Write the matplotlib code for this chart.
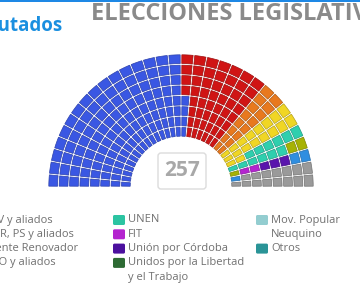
import matplotlib.pyplot as plt
import matplotlib.colors as mcolors
from matplotlib.patches import Wedge, FancyBboxPatch, Rectangle
import numpy as np

# bancas por bloque, en el orden en que se llenan (columna a columna, de adentro hacia afuera)
seat_counts = [132, 52, 16, 18, 12, 3, 2, 3, 3, 15]
seat_colors = ['#3a57e3', '#d01414', '#e8791e', '#f0d624', '#2fcfae',
               '#a6b204', '#b424cf', '#5a14ad', '#2f8ee0', '#9a9a9a']
total_seats = 257

legend_labels = [['FPV y aliados', 'UCR, PS y aliados', 'Frente Renovador', 'PRO y aliados'],
                 ['UNEN', 'FIT', 'Unión por Córdoba', 'Unidos por la Libertad\ny el Trabajo'],
                 ['Mov. Popular\nNeuquino', 'Otros']]
legend_colors = [['#3a57e3', '#d01414', '#e8791e', '#f0d624'],
                 ['#2cc4a2', '#b424cf', '#4b109e', '#2e6b34'],
                 ['#93cdd0', '#2a9497']]

plt.rcParams['font.family'] = ['Open Sans', 'DejaVu Sans']

W, H = 360, 285
fig = plt.figure(figsize=(W / 100, H / 100), dpi=100)
fig.patch.set_facecolor('white')

# capa en pixeles para textos y leyenda
ax = fig.add_axes([0, 0, 1, 1])
ax.set_xlim(0, W)
ax.set_ylim(H, 0)
ax.axis('off')

ax.add_patch(Rectangle((0, 0), W, 2.2, color='#1e88e5', lw=0))
ax.text(63, 31, 'Diputados', color='#1a8fe0', fontsize=13.5, fontweight='bold',
        ha='right', va='baseline')
ax.text(91, 19.5, 'ELECCIONES LEGISLATIVAS', color='#8a8a8a', fontsize=17,
        fontweight='bold', ha='left', va='baseline')

# hemiciclo
cx, cy = 181, 187
r_in, r_out = 50, 133
nrows, ncols = 8, 32
dr = (r_out - r_in) / nrows
dtheta = 180 / ncols
gap = 0.8

axh = fig.add_axes([(cx - 135) / W, (H - cy - 1) / H, 270 / W, 137 / H])
axh.set_xlim(-135, 135)
axh.set_ylim(-1, 136)
axh.axis('off')

colors = np.repeat(seat_colors, seat_counts)
for k, c in enumerate(colors):
    col, row = k // nrows, k % nrows
    r1 = r_in + row * dr
    r2 = r1 + dr
    rm = (r1 + r2) / 2
    gdeg = np.degrees(gap / rm)
    t2 = 180 - col * dtheta
    t1 = t2 - dtheta
    edge = np.array(mcolors.to_rgb(c)) * 0.75
    axh.add_patch(Wedge((0, 0), r2 - gap, t1 + gdeg, t2 - gdeg, width=dr - 2 * gap,
                        facecolor=c, edgecolor=edge, lw=0.5))

# recuadro con el total
ax.add_patch(FancyBboxPatch((158, 153), 48, 36, boxstyle='round,pad=0,rounding_size=3',
                            facecolor='white', edgecolor='#dcdcdc', lw=1))
ax.text(182, 171, str(total_seats), color='#a8a8a8', fontsize=15, fontweight='bold',
        ha='center', va='center')

# leyenda
col_x = [-30, 113, 256]
y0, step = 220, 14.3
for x, labels, cols in zip(col_x, legend_labels, legend_colors):
    slot = 0
    for lab, c in zip(labels, cols):
        y = y0 + slot * step
        ax.add_patch(FancyBboxPatch((x, y - 5), 12, 10, boxstyle='round,pad=0,rounding_size=1.5',
                                    facecolor=c, edgecolor='none'))
        for line in lab.split('\n'):
            ax.text(x + 15, y0 + slot * step, line, color='#707070', fontsize=8,
                    ha='left', va='center')
            slot += 1

fig.savefig('out.png', dpi=100, facecolor='white')
